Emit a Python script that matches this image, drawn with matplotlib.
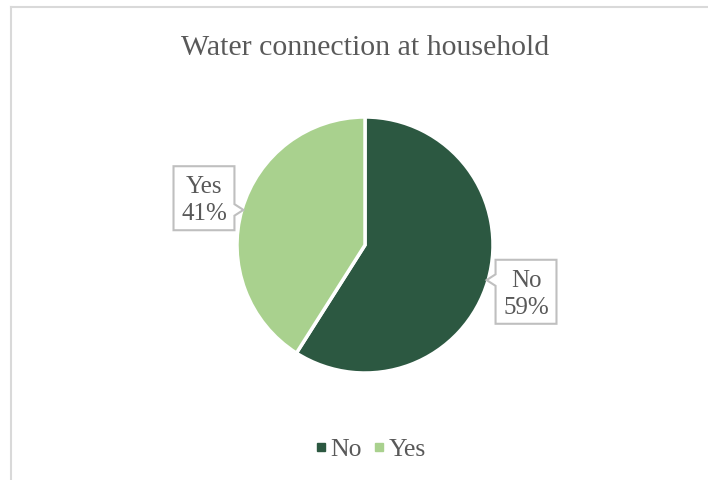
import numpy as np
import matplotlib
matplotlib.use('Agg')
import matplotlib.pyplot as plt
from matplotlib.lines import Line2D
from matplotlib.patches import Polygon

plt.rcParams['font.family'] = ['Liberation Serif', 'DejaVu Serif']

labels = ['No', 'Yes']
shares = [59, 41]
colors = ['#2C5841', '#A9D18E']
title = 'Water connection at household'
text_color = '#595959'

W, H = 708, 481
fig = plt.figure(figsize=(W / 100, H / 100), dpi=100)

# chart frame (top and left edges visible)
fig.add_artist(Line2D([11 / W, 1], [1 - 8 / H, 1 - 8 / H], transform=fig.transFigure,
                      color='#D9D9D9', lw=1.5))
fig.add_artist(Line2D([11 / W, 11 / W], [0, 1 - 8 / H], transform=fig.transFigure,
                      color='#D9D9D9', lw=1.5))

# pie axes: center (365, 246), radius 128 px
cx, cy, r = 365, 246, 128
ax = fig.add_axes([(cx - r) / W, (H - cy - r) / H, 2 * r / W, 2 * r / H])
wedges, _ = ax.pie(shares, colors=colors, startangle=90, counterclock=False,
                   wedgeprops=dict(edgecolor='white', linewidth=2.5))
ax.set_xlim(-1, 1)
ax.set_ylim(-1, 1)
ax.set_aspect('equal')
ax.axis('off')

# callout labels
hw, hh = 0.238, 0.25
for w, lab, val in zip(wedges, labels, shares):
    ang = np.deg2rad((w.theta1 + w.theta2) / 2)
    bx, by = 1.31 * np.cos(ang), 1.31 * np.sin(ang)
    s = np.sign(bx)
    edge = bx - s * hw
    ny = 0.75 * by
    pts = [(bx - hw, by - hh), (bx + hw, by - hh), (bx + hw, by + hh), (bx - hw, by + hh)]
    notch = [(edge, ny + 0.045), (edge - s * 0.07, ny), (edge, ny - 0.045)]
    if s > 0:
        # pointer on left side: insert between top-left and bottom-left
        pts = pts + notch
    else:
        # pointer on right side: between bottom-right and top-right
        pts = [pts[0], pts[1]] + notch[::-1] + [pts[2], pts[3]]
    ax.add_patch(Polygon(pts, closed=True, facecolor='white', edgecolor='#BFBFBF',
                         lw=1.5, clip_on=False, zorder=3))
    ax.text(bx, by - 0.01, f'{lab}\n{val}%', ha='center', va='center', fontsize=18,
            color=text_color, linespacing=1.3, zorder=4)

fig.text(cx / W, 1 - 48 / H, title, ha='center', va='center', fontsize=21.5,
         color=text_color)

handles = [Line2D([], [], marker='s', ls='none', markersize=6, color=c) for c in colors]
fig.legend(handles, labels, loc='center', bbox_to_anchor=(370 / W, 1 - 450 / H),
           ncol=2, frameon=False, fontsize=18.5, labelcolor=text_color,
           handlelength=0.5, handletextpad=0.12, columnspacing=0.43)

fig.savefig('out.png', dpi=100)
